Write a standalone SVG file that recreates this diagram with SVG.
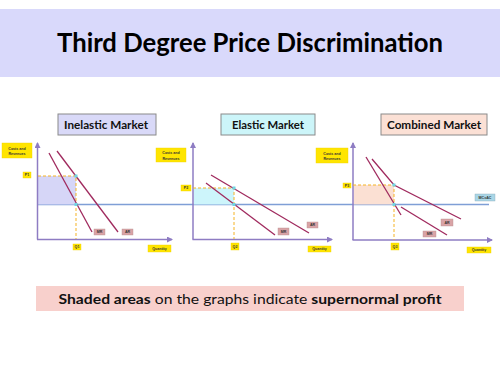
<svg xmlns="http://www.w3.org/2000/svg" width="500" height="375" viewBox="0 0 500 375">
<defs>
<marker id="ax" viewBox="0 0 6 6" refX="5" refY="3" markerWidth="4" markerHeight="4" orient="auto">
<path d="M0,0 L6,3 L0,6 z" fill="#8e7cc3"/>
</marker>
<style>
.axis{stroke:#8e7cc3;stroke-width:1.5;fill:none;marker-end:url(#ax)}
.dem{stroke:#a02a5e;stroke-width:1.3;fill:none}
.mc{stroke:#7f9fd6;stroke-width:1.3;fill:none}
.dash{stroke:#f5b324;stroke-width:1;stroke-dasharray:3,2;fill:none}
.pt{fill:#6fd6e2}
.ylab{fill:#ffe500;stroke:#f0d000;stroke-width:0.4}
.plab{fill:#d9a3a6;stroke:#b89090;stroke-width:0.4}
.tiny{font-family:"Liberation Sans",Arial,sans-serif;font-size:3.6px;font-weight:bold;fill:#333;text-anchor:middle}
.mkt{font-family:Lato,"Liberation Sans",sans-serif;font-size:12px;font-weight:bold;fill:#111;text-anchor:middle}
.tbox{stroke:#8a8a8a;stroke-width:1}
</style>
</defs>
<rect width="500" height="375" fill="#ffffff"/>
<g id="title">
<rect x="0" y="9" width="500" height="68" fill="#d9d9fb"/>
<text x="250" y="52" font-family="Lato,'Liberation Sans',sans-serif" font-size="27" font-weight="bold" fill="#000" text-anchor="middle" textLength="386" lengthAdjust="spacingAndGlyphs">Third Degree Price Discrimination</text>
</g>
<g id="mc-line">
<line class="mc" x1="38" y1="204.5" x2="489" y2="204.5"/>
</g>
<g id="graph-inelastic">
<rect class="tbox" x="58" y="114" width="98" height="21" fill="#d9d9f8"/>
<text class="mkt" x="106" y="128.5" textLength="84" lengthAdjust="spacingAndGlyphs">Inelastic Market</text>
<rect x="38" y="176" width="38" height="28.5" fill="#d6d6f7"/>
<line class="axis" x1="37.5" y1="239.5" x2="37.5" y2="143"/>
<line class="axis" x1="37" y1="239.5" x2="172" y2="239.5"/>
<polyline class="dash" points="38,176 76,176 76,239"/>
<line class="dem" x1="49" y1="153" x2="92" y2="232"/>
<line class="dem" x1="57" y1="151" x2="118" y2="232"/>
<rect class="pt" x="74.5" y="174.5" width="3" height="3"/>
<rect class="pt" x="74.5" y="203" width="3" height="3"/>
<rect class="ylab" x="2" y="143" width="30" height="15"/>
<text class="tiny" x="17" y="149.5">Costs and</text>
<text class="tiny" x="17" y="155">Revenues</text>
<rect class="ylab" x="23" y="172" width="8" height="6"/>
<text class="tiny" x="27" y="176.3">P1</text>
<rect class="ylab" x="73" y="244" width="8" height="6"/>
<text class="tiny" x="77" y="248.3">Q1</text>
<rect class="plab" x="94" y="229" width="11" height="6"/>
<text class="tiny" x="99.5" y="233.3">MR</text>
<rect class="plab" x="122" y="229" width="11" height="6"/>
<text class="tiny" x="127.5" y="233.3">AR</text>
<rect class="ylab" x="148" y="245" width="23" height="7"/>
<text class="tiny" x="159.5" y="249.8">Quantity</text>
</g>
<g id="graph-elastic">
<rect class="tbox" x="221" y="114" width="94" height="21" fill="#ccf5f9"/>
<text class="mkt" x="268" y="128.5" textLength="72" lengthAdjust="spacingAndGlyphs">Elastic Market</text>
<rect x="193.5" y="188" width="40.5" height="16.5" fill="#cdf5fb"/>
<line class="axis" x1="193" y1="239.5" x2="193" y2="143"/>
<line class="axis" x1="192.5" y1="239.5" x2="332" y2="239.5"/>
<polyline class="dash" points="193,188 234,188 234,239"/>
<line class="dem" x1="206" y1="183" x2="275" y2="235"/>
<line class="dem" x1="211" y1="175" x2="309" y2="233"/>
<rect class="pt" x="232.5" y="186.5" width="3" height="3"/>
<rect class="pt" x="232.5" y="203" width="3" height="3"/>
<rect class="ylab" x="156" y="148" width="30" height="14"/>
<text class="tiny" x="171" y="154">Costs and</text>
<text class="tiny" x="171" y="159.5">Revenues</text>
<rect class="ylab" x="181" y="185" width="10" height="6"/>
<text class="tiny" x="186" y="189.3">P2</text>
<rect class="ylab" x="231" y="243" width="8" height="7"/>
<text class="tiny" x="235" y="247.8">Q2</text>
<rect class="plab" x="278" y="228" width="11" height="7"/>
<text class="tiny" x="283.5" y="232.8">MR</text>
<rect class="plab" x="307" y="222" width="11" height="6"/>
<text class="tiny" x="312.5" y="226.3">AR</text>
<rect class="ylab" x="308" y="246" width="23" height="6"/>
<text class="tiny" x="319.5" y="250.3">Quantity</text>
</g>
<g id="graph-combined">
<rect class="tbox" x="381" y="114" width="106" height="21" fill="#fbe0d5"/>
<text class="mkt" x="434" y="128.5" textLength="94" lengthAdjust="spacingAndGlyphs">Combined Market</text>
<rect x="353.5" y="185" width="40.5" height="19.5" fill="#fbe0d3"/>
<line class="axis" x1="353" y1="240" x2="353" y2="143"/>
<line class="axis" x1="352.5" y1="240" x2="492" y2="240"/>
<polyline class="dash" points="353,185 394,185 394,240"/>
<line class="dem" x1="366" y1="157" x2="401" y2="215"/>
<polyline class="dem" points="372,159 394,185 461,219"/>
<line class="dem" x1="401" y1="207" x2="447" y2="235"/>
<rect class="pt" x="392.5" y="183.5" width="3" height="3"/>
<rect class="pt" x="392.5" y="203" width="3" height="3"/>
<rect class="ylab" x="316" y="148" width="32" height="15"/>
<text class="tiny" x="332" y="154.5">Costs and</text>
<text class="tiny" x="332" y="160">Revenues</text>
<rect class="ylab" x="343" y="183" width="8" height="5"/>
<text class="tiny" x="347" y="186.8">P3</text>
<rect class="ylab" x="391" y="243" width="8" height="7"/>
<text class="tiny" x="395" y="247.8">Q3</text>
<rect class="plab" x="441" y="219" width="12" height="7"/>
<text class="tiny" x="447" y="223.8">AR</text>
<rect class="plab" x="423" y="231" width="13" height="6"/>
<text class="tiny" x="429.5" y="235.3">MR</text>
<rect class="ylab" x="467" y="247" width="24" height="6"/>
<text class="tiny" x="479" y="251.3">Quantity</text>
<rect x="475" y="194" width="20" height="7" fill="#a9d6e6" stroke="#8aaabb" stroke-width="0.4"/>
<text class="tiny" x="485" y="198.8">MC=AC</text>
</g>
<g id="note">
<rect x="36" y="286" width="428" height="25" fill="#f8d0cc"/>
<text x="250" y="303.5" font-family="Lato,'Liberation Sans',sans-serif" font-size="14" fill="#111" text-anchor="middle" textLength="383" lengthAdjust="spacingAndGlyphs"><tspan font-weight="bold">Shaded areas</tspan> on the graphs indicate <tspan font-weight="bold">supernormal profit</tspan></text>
</g>
</svg>
